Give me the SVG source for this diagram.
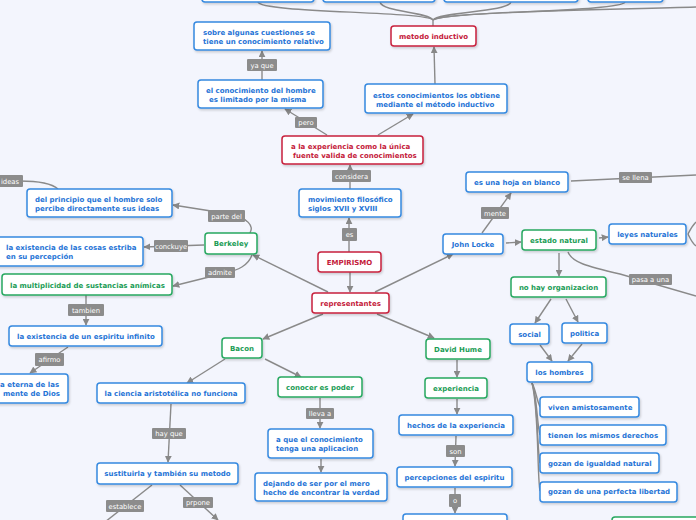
<svg xmlns="http://www.w3.org/2000/svg" width="696" height="520" viewBox="0 0 696 520">
<defs>
<marker id="arr" viewBox="0 0 10 10" refX="9" refY="5" markerWidth="7" markerHeight="7" orient="auto" markerUnits="userSpaceOnUse">
<path d="M0,0 L10,5 L0,10 z" fill="#888"/>
</marker>
<filter id="sh" x="-10%" y="-20%" width="120%" height="150%">
<feDropShadow dx="1" dy="1.5" stdDeviation="0.8" flood-color="#000" flood-opacity="0.18"/>
</filter>
</defs>
<style>
.n rect{fill:#fff;stroke-width:1.5;filter:url(#sh)}
.b rect{stroke:#3589e0}
.r rect{stroke:#c8213d}
.g rect{stroke:#27a860}
.n text{font-family:"DejaVu Sans",Verdana,sans-serif;font-weight:bold;font-size:7px}
.b text{fill:#1f74d6}
.r text{fill:#c41a3a}
.g text{fill:#1a9c55}
.c{text-anchor:middle}
.conn path{fill:none;stroke:#8a8a8a;stroke-width:1.4}
.lab rect{fill:#8c8c8c}
.lab text{font-family:"DejaVu Sans",Verdana,sans-serif;font-size:6.8px;fill:#fff;text-anchor:middle}
</style>
<rect width="696" height="520" fill="#f3f5fd"/>

<g id="connectors" class="conn">
<path d="M258,2 C260,13 425,11 433,20"/>
<path d="M380,2 C382,12 428,12 433,20"/>
<path d="M511,2 C509,12 438,12 433,20"/>
<path d="M625,2 C622,12 445,11 433,20"/>
<path d="M433,20 C445,12 600,10 696,7"/>
<path d="M433,20 L433,26"/>
<path d="M349,252 L349,218" marker-end="url(#arr)"/>
<path d="M350,189 L350,165" marker-end="url(#arr)"/>
<path d="M327,135 L285,109" marker-end="url(#arr)"/>
<path d="M262,80 L262,51" marker-end="url(#arr)"/>
<path d="M378,135 L413,114" marker-end="url(#arr)"/>
<path d="M435,84 L434,47" marker-end="url(#arr)"/>
<path d="M350,272 L350,292" marker-end="url(#arr)"/>
<path d="M375,292 L453,254" marker-end="url(#arr)"/>
<path d="M328,292 L253,255" marker-end="url(#arr)"/>
<path d="M252,255 C248,266 238,270 225,273 L173,286" marker-end="url(#arr)"/>
<path d="M204,245 L144,247" marker-end="url(#arr)"/>
<path d="M250,233 C254,226 248,218 230,214 L173,205" marker-end="url(#arr)"/>
<path d="M58,189 C50,182 35,181 20,181"/>
<path d="M86,295 L86,325" marker-end="url(#arr)"/>
<path d="M68,347 L30,373" marker-end="url(#arr)"/>
<path d="M323,314 L263,339" marker-end="url(#arr)"/>
<path d="M377,314 L434,338" marker-end="url(#arr)"/>
<path d="M225,359 L187,383" marker-end="url(#arr)"/>
<path d="M265,359 L301,377" marker-end="url(#arr)"/>
<path d="M171,404 L168,462" marker-end="url(#arr)"/>
<path d="M152,485 L105,522"/>
<path d="M180,485 L218,520" marker-end="url(#arr)"/>
<path d="M320,398 L320,428" marker-end="url(#arr)"/>
<path d="M321,459 L321,472" marker-end="url(#arr)"/>
<path d="M457,360 L457,377" marker-end="url(#arr)"/>
<path d="M457,399 L457,414" marker-end="url(#arr)"/>
<path d="M456,436 L455,466" marker-end="url(#arr)"/>
<path d="M455,488 L455,513" marker-end="url(#arr)"/>
<path d="M482,233 L511,193" marker-end="url(#arr)"/>
<path d="M506,243 L521,242" marker-end="url(#arr)"/>
<path d="M599,238 L608,237" marker-end="url(#arr)"/>
<path d="M559,253 L559,276" marker-end="url(#arr)"/>
<path d="M568,252 C572,262 585,266 620,274 L696,296"/>
<path d="M571,181 L696,175"/>
<path d="M688,234 C690,230 692,226 696,222"/>
<path d="M688,234 C690,238 692,243 696,246"/>
<path d="M551,299 L535,323" marker-end="url(#arr)"/>
<path d="M566,299 L578,322" marker-end="url(#arr)"/>
<path d="M540,345 L552,361" marker-end="url(#arr)"/>
<path d="M582,344 L568,361" marker-end="url(#arr)"/>
<path d="M532,383 C536,390 536,398 540,407"/>
<path d="M532,383 C537,395 537,425 540,435"/>
<path d="M532,383 C538,400 537,450 540,463"/>
<path d="M532,383 C539,410 537,475 540,491"/>
</g>

<g class="lab">
<g id="l-yaque"><rect x="247" y="59" width="30" height="12" rx="1"/><text x="262" y="67.5">ya que</text></g>
<g id="l-pero"><rect x="295" y="117" width="22" height="11" rx="1"/><text x="306" y="125">pero</text></g>
<g id="l-considera"><rect x="332" y="170" width="39" height="12" rx="1"/><text x="351.5" y="178.5">considera</text></g>
<g id="l-es"><rect x="342" y="228" width="15" height="13" rx="1"/><text x="349.5" y="237">es</text></g>
<g id="l-partedel"><rect x="208" y="210" width="37" height="12" rx="1"/><text x="226.5" y="218.5">parte del</text></g>
<g id="l-ideas"><rect x="-5" y="175" width="28" height="12" rx="1"/><text x="10" y="183.5">ideas</text></g>
<g id="l-conckuye"><rect x="154" y="240" width="34" height="12" rx="1"/><text x="171" y="248.5">conckuye</text></g>
<g id="l-admite"><rect x="205" y="267" width="30" height="11" rx="1"/><text x="220" y="275">admite</text></g>
<g id="l-tambien"><rect x="68" y="304" width="36" height="12" rx="1"/><text x="86" y="312.5">tambien</text></g>
<g id="l-afirmo"><rect x="35" y="353" width="29" height="13" rx="1"/><text x="49.5" y="362">afirmo</text></g>
<g id="l-hayque"><rect x="152" y="428" width="34" height="11" rx="1"/><text x="169" y="436">hay que</text></g>
<g id="l-establece"><rect x="106" y="500" width="38" height="12" rx="1"/><text x="125" y="508.5">establece</text></g>
<g id="l-prpone"><rect x="183" y="497" width="30" height="11" rx="1"/><text x="198" y="505">prpone</text></g>
<g id="l-llevaa"><rect x="306" y="408" width="28" height="11" rx="1"/><text x="320" y="416">lleva a</text></g>
<g id="l-son"><rect x="446" y="445" width="19" height="12" rx="1"/><text x="455.5" y="453.5">son</text></g>
<g id="l-o"><rect x="449" y="494" width="12" height="13" rx="1"/><text x="455" y="503">o</text></g>
<g id="l-mente"><rect x="481" y="207" width="28" height="12" rx="1"/><text x="495" y="215.5">mente</text></g>
<g id="l-sellena"><rect x="619" y="172" width="33" height="11" rx="1"/><text x="635.5" y="180">se llena</text></g>
<g id="l-pasauna"><rect x="629" y="274" width="43" height="11" rx="1"/><text x="650.5" y="282">pasa a una</text></g>
</g>

<g id="top1" class="n b"><rect x="202" y="-20" width="112" height="22" rx="3"/></g>
<g id="top2" class="n b"><rect x="323" y="-20" width="112" height="22" rx="3"/></g>
<g id="top3" class="n b"><rect x="444" y="-20" width="134" height="22" rx="3"/></g>
<g id="top4" class="n b"><rect x="588" y="-20" width="75" height="22" rx="3"/></g>

<g id="sobre" class="n b"><rect x="194" y="22" width="136" height="28" rx="3"/><text x="203" y="35">sobre algunas cuestiones se</text><text x="203" y="44">tiene un conocimiento relativo</text></g>
<g id="metodo" class="n r"><rect x="391" y="26" width="85" height="20" rx="3"/><text class="c" x="433.5" y="38.5">metodo inductivo</text></g>
<g id="conochombre" class="n b"><rect x="198" y="80" width="125" height="28" rx="3"/><text x="206" y="93">el conocimiento del hombre</text><text x="209" y="102">es limitado por la misma</text></g>
<g id="estos" class="n b"><rect x="365" y="84" width="142" height="29" rx="3"/><text x="373" y="97.5">estos conocimientos los obtiene</text><text x="376" y="106.5">mediante el método inductivo</text></g>
<g id="experiencia-unica" class="n r"><rect x="282" y="136" width="141" height="28" rx="3"/><text x="291" y="149">a la experiencia como la única</text><text x="293" y="158">fuente valida de conocimientos</text></g>
<g id="movimiento" class="n b"><rect x="299" y="189" width="102" height="28" rx="3"/><text x="308" y="202">movimiento filosófico</text><text x="308" y="211">siglos XVII y XVIII</text></g>
<g id="empirismo" class="n r"><rect x="318" y="252" width="63" height="20" rx="3"/><text class="c" x="349.5" y="264.5">EMPIRISMO</text></g>
<g id="representantes" class="n r"><rect x="312" y="293" width="77" height="20" rx="3"/><text class="c" x="350.5" y="305.5">representantes</text></g>

<g id="hoja" class="n b"><rect x="466" y="172" width="102" height="20" rx="3"/><text class="c" x="517" y="184.5">es una hoja en blanco</text></g>
<g id="locke" class="n b"><rect x="443" y="234" width="60" height="20" rx="3"/><text class="c" x="473" y="246.5">John Locke</text></g>
<g id="estado" class="n g"><rect x="522" y="230" width="74" height="20" rx="3"/><text class="c" x="559" y="242.5">estado natural</text></g>
<g id="leyes" class="n b"><rect x="609" y="224" width="77" height="20" rx="3"/><text class="c" x="647.5" y="236.5">leyes naturales</text></g>
<g id="noorg" class="n g"><rect x="511" y="277" width="95" height="20" rx="3"/><text class="c" x="558.5" y="289.5">no hay organizacion</text></g>
<g id="social" class="n b"><rect x="510" y="324" width="39" height="20" rx="3"/><text class="c" x="529.5" y="336.5">social</text></g>
<g id="politica" class="n b"><rect x="562" y="323" width="45" height="20" rx="3"/><text class="c" x="584.5" y="335.5">politica</text></g>
<g id="hombres" class="n b"><rect x="527" y="362" width="65" height="20" rx="3"/><text class="c" x="559.5" y="374.5">los hombres</text></g>
<g id="viven" class="n b"><rect x="540" y="397" width="99" height="20" rx="3"/><text x="548" y="409.5">viven amistosamente</text></g>
<g id="tienen" class="n b"><rect x="540" y="425" width="126" height="20" rx="3"/><text x="548" y="437.5">tienen los mismos derechos</text></g>
<g id="igualdad" class="n b"><rect x="540" y="453" width="119" height="20" rx="3"/><text x="548" y="465.5">gozan de igualdad natural</text></g>
<g id="libertad" class="n b"><rect x="540" y="482" width="137" height="20" rx="3"/><text x="548" y="494">gozan de una perfecta libertad</text></g>
<g id="br-green" class="n g"><rect x="612" y="517" width="100" height="20" rx="3"/></g>

<g id="hume" class="n g"><rect x="426" y="339" width="64" height="20" rx="3"/><text class="c" x="458" y="351.5">David Hume</text></g>
<g id="experiencia" class="n g"><rect x="425" y="378" width="62" height="20" rx="3"/><text class="c" x="456" y="390.5">experiencia</text></g>
<g id="hechos" class="n b"><rect x="399" y="415" width="114" height="20" rx="3"/><text class="c" x="456" y="427.5">hechos de la experiencia</text></g>
<g id="percepciones" class="n b"><rect x="397" y="467" width="115" height="20" rx="3"/><text class="c" x="454.5" y="479.5">percepciones del espiritu</text></g>
<g id="bottomhume" class="n b"><rect x="403" y="514" width="104" height="22" rx="3"/></g>

<g id="bacon" class="n g"><rect x="222" y="338" width="40" height="20" rx="3"/><text class="c" x="242" y="350.5">Bacon</text></g>
<g id="conocer" class="n g"><rect x="278" y="377" width="84" height="20" rx="3"/><text class="c" x="320" y="389.5">conocer es poder</text></g>
<g id="aque" class="n b"><rect x="268" y="429" width="105" height="29" rx="3"/><text x="276" y="442">a que el conocimiento</text><text x="276" y="451">tenga una aplicacion</text></g>
<g id="dejando" class="n b"><rect x="255" y="473" width="132" height="28" rx="3"/><text x="263" y="486">dejando de ser por el mero</text><text x="263" y="495">hecho de encontrar la verdad</text></g>
<g id="ciencia" class="n b"><rect x="97" y="383" width="148" height="20" rx="3"/><text class="c" x="171" y="395.5">la ciencia aristotélica no funciona</text></g>
<g id="sustituirla" class="n b"><rect x="97" y="463" width="141" height="21" rx="3"/><text class="c" x="167.5" y="476">sustituirla y también su metodo</text></g>

<g id="berkeley" class="n g"><rect x="205" y="233" width="52" height="21" rx="3"/><text class="c" x="231" y="246">Berkeley</text></g>
<g id="principio" class="n b"><rect x="27" y="189" width="145" height="28" rx="3"/><text x="35" y="202">del principio que el hombre solo</text><text x="35" y="211">percibe directamente sus ideas</text></g>
<g id="cosas" class="n b"><rect x="-10" y="237" width="153" height="29" rx="3"/><text x="6" y="250">la existencia de las cosas estriba</text><text x="6" y="259">en su percepción</text></g>
<g id="multiplicidad" class="n g"><rect x="2" y="274" width="170" height="21" rx="3"/><text x="10" y="287.5">la multiplicidad de sustancias anímicas</text></g>
<g id="espiritu" class="n b"><rect x="9" y="326" width="153" height="20" rx="3"/><text x="17" y="338.5">la existencia de un espiritu infinito</text></g>
<g id="eterna" class="n b"><rect x="-20" y="374" width="88" height="29" rx="3"/><text x="0" y="387">a eterna de las</text><text x="3" y="396">mente de Dios</text></g>
</svg>
